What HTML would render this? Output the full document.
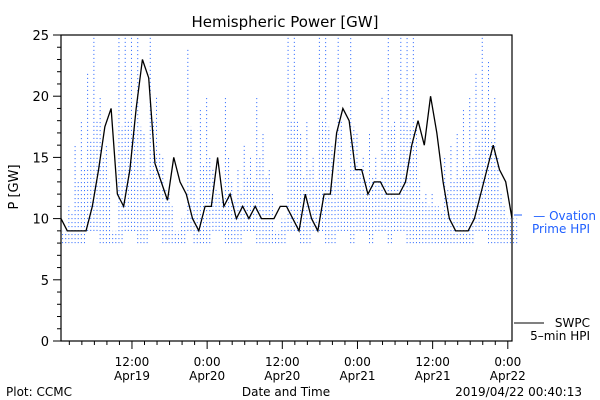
<!DOCTYPE html>
<html><head><meta charset="utf-8"><style>
body{margin:0;background:#fff;}
svg{display:block;font-family:"DejaVu Sans","Liberation Sans",sans-serif;}
</style></head><body>
<svg id="chart" width="600" height="400" viewBox="0 0 600 400">
<text x="285" y="27" font-size="15" text-anchor="middle">Hemispheric Power [GW]</text>
<text transform="translate(18,187) rotate(-90)" font-size="13" text-anchor="middle">P [GW]</text>
<text x="286" y="396" font-size="12" text-anchor="middle">Date and Time</text>
<text x="6" y="396" font-size="12">Plot: CCMC</text>
<text x="582" y="396" font-size="12" text-anchor="end">2019/04/22 00:40:13</text>
<g id="ticks"></g>
<g id="series"></g>
<rect x="61" y="35" width="451" height="306" fill="none" stroke="#000" stroke-width="1.2"/>
<line x1="514" y1="215" x2="522" y2="215" stroke="#2060ff"/>
<text x="596" y="220" font-size="12" fill="#2060ff" text-anchor="end">— Ovation</text>
<text x="590" y="233" font-size="12" fill="#2060ff" text-anchor="end">Prime HPI</text>
<line x1="514" y1="323" x2="544" y2="323" stroke="#000"/>
<text x="590" y="327" font-size="12" text-anchor="end">SWPC</text>
<text x="590" y="340" font-size="12" text-anchor="end">5–min HPI</text>
</svg>
<script>
const hours = [0,1,2,3,4,5,6,7,8,9,10,11,12,13,14,15,16,17,18,19,20,21,22,23,24,25,26,27,28,29,30,31,32,33,34,35,36,37,38,39,40,41,42,43,44,45,46,47,48,49,50,51,52,53,54,55,56,57,58,59,60,61,62,63,64,65,66,67,68,69,70,71,72];
const swpc = [10,9,9,9,9,11,14,17.5,19,12,11,14,19,23,21.5,14.5,13,11.5,15,13,12,10,9,11,11,15,11,12,10,11,10,11,10,10,10,11,11,10,9,12,10,9,12,12,17,19,18,14,14,12,13,13,12,12,12,13,16,18,16,20,17,13,10,9,9,9,10,12,14,16,14,13,10];
const ovPeak = [9,11,16,18,22,25,20,16,9,25,25,25,25,17,25,20,15,12,9,10,24,13,19,20,14,12,20,13,14,16,15,20,17,14,9,10,25,25,17,18,15,25,25,16,25,14,25,17,15,17,15,20,25,18,25,25,25,13,12,12,11,15,16,17,19,20,22,25,23,20,12,10,10];
const ovLow = [8,8,8,8,9,9,8,8,8,8,9,9,8,8,9,9,8,8,8,8,9,8,8,8,9,9,8,8,8,9,9,8,8,8,8,8,9,9,8,8,9,9,8,8,9,9,8,9,9,8,9,9,8,9,9,8,8,8,8,8,8,8,8,8,8,8,9,9,8,8,8,8,8];
const yTicks = [0,5,10,15,20,25];
const xMajor = [[11.33,"12:00","Apr19"],[23.33,"0:00","Apr20"],[35.33,"12:00","Apr20"],[47.33,"0:00","Apr21"],[59.33,"12:00","Apr21"],[71.33,"0:00","Apr22"]];
const NS="http://www.w3.org/2000/svg";
const X0=61,X1=512,Y0=341,Y1=35,TMAX=72,VMAX=25;
const xs=h=>X0+(h/TMAX)*(X1-X0);
const ys=v=>Y0-(Math.min(v,VMAX)/VMAX)*(Y0-Y1);
function mk(tag,attrs,parent){const e=document.createElementNS(NS,tag);for(const k in attrs)e.setAttribute(k,attrs[k]);parent.appendChild(e);return e;}
const tg=document.getElementById('ticks'), sg=document.getElementById('series');
for(let v=0;v<=25;v++){
  const len=v%5===0?8:4;
  const t=mk('line',{x1:X0-len,x2:X0,y1:ys(v),y2:ys(v),stroke:'#000'},tg);
  
  
}
yTicks.forEach(v=>{
  const t=mk('text',{x:X0-12,y:ys(v)+5,'font-size':13,'text-anchor':'end'},tg);
  t.textContent=v;
  
  
});
for(let h=1.33;h<TMAX;h+=2){
  const major=xMajor.some(m=>Math.abs(m[0]-h)<0.1);
  const t=mk('line',{x1:xs(h),x2:xs(h),y1:Y0,y2:Y0+(major?8:4),stroke:'#000'},tg);
  
  
}
xMajor.forEach(m=>{
  const t=mk('text',{x:xs(m[0]),y:366,'font-size':12,'text-anchor':'middle'},tg);
  t.textContent=m[1];
  
  
  const d=mk('text',{x:xs(m[0]),y:380,'font-size':12,'text-anchor':'middle'},tg);
  d.textContent=m[2];
  
  
});
// Ovation dotted vertical spikes
let od='';
hours.forEach((h,i)=>{
  const xa=xs(h+0.25);
  od+='M'+xa+' '+ys(ovLow[i])+'L'+xa+' '+ys(ovPeak[i]);
  const mid=(ovLow[i]+ovPeak[i])/2+1;
  const xb=xs(h+0.75);
  od+='M'+xb+' '+ys(ovLow[i])+'L'+xb+' '+ys(Math.min(mid,ovPeak[i]));
});
const op=mk('path',{d:od,fill:'none',stroke:'#2060ff','stroke-width':1,'stroke-dasharray':'1 3'},sg);


// SWPC line
let sd='';
hours.forEach((h,i)=>{
  sd+=(i?'L':'M')+xs(h)+' '+ys(swpc[i]);
});
const sp=mk('path',{d:sd,fill:'none',stroke:'#000','stroke-width':1.3},sg);


</script>
</body></html>
